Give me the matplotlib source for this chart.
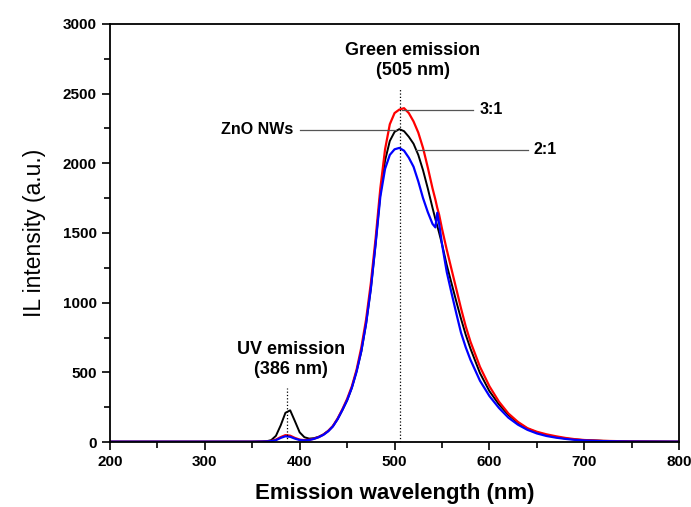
import numpy as np
import matplotlib.pyplot as plt
from matplotlib.ticker import MultipleLocator

plt.rcParams['font.family'] = ['Liberation Sans', 'DejaVu Sans']

# Data (wavelength in nm, IL intensity in a.u.)
wl = [200, 250, 300, 350, 360, 365, 370, 375, 380, 385, 390, 395,
      400, 405, 410, 415, 420, 425, 430, 435, 440, 445, 450, 455, 460, 465, 470, 475,
      480, 485, 490, 495, 500, 505, 510, 515, 520, 525, 530, 535, 540,
      543, 545, 547, 550, 555, 560, 565, 570, 575, 580,
      590, 600, 610, 620, 630, 640, 650, 660, 670, 680, 690, 700,
      720, 750, 800]
zno = [3, 3, 3, 3, 4, 6, 14, 45, 120, 210, 228, 150,
       70, 35, 25, 28, 38, 55, 80, 115, 165, 230, 300, 390, 510, 650, 850, 1100,
       1420, 1780, 2020, 2160, 2225, 2245, 2230, 2190, 2140, 2060, 1950, 1820, 1680,
       1600, 1550, 1500, 1420, 1270, 1140, 1010, 885, 770, 670,
       495, 365, 270, 195, 138, 97, 70, 50, 36, 26, 19, 14,
       9, 5, 3]
r31 = [3, 3, 3, 3, 4, 5, 8, 18, 36, 50, 46, 30,
       18, 14, 17, 24, 36, 54, 80, 115, 170, 235, 310, 400, 520, 680, 880, 1140,
       1460, 1820, 2100, 2280, 2360, 2385, 2395, 2360, 2300, 2220, 2110, 1970, 1820,
       1740, 1680, 1630, 1530, 1380, 1240, 1100, 960, 830, 720,
       540, 400, 290, 205, 145, 100, 74, 56, 42, 30, 21, 15,
       9, 5, 3]
r21 = [3, 3, 3, 3, 4, 5, 7, 14, 30, 42, 38, 25,
       15, 12, 15, 23, 35, 52, 77, 112, 165, 230, 300, 390, 505, 655, 850, 1100,
       1420, 1760, 1960, 2060, 2100, 2110, 2090, 2040, 1975, 1870, 1750, 1650, 1565,
       1540, 1645, 1565, 1420, 1220, 1070, 925, 785, 680, 590,
       440, 330, 245, 175, 125, 88, 62, 44, 32, 23, 16, 12,
       7, 4, 3]

fig = plt.figure(figsize=(6.91, 5.07), dpi=100)
ax = fig.add_axes([0.159, 0.128, 0.824, 0.825])

ax.plot(wl, zno, color='black', lw=1.4)
ax.plot(wl, r31, color='#ff0000', lw=1.6)
ax.plot(wl, r21, color='#0000ff', lw=1.6)

# peak markers
ax.plot([506, 506], [0, 2530], ls=':', color='black', lw=0.9)
ax.plot([387, 387], [0, 390], ls=':', color='black', lw=0.9)

# leader lines for labels
lc = '#555555'
ax.plot([400, 502], [2240, 2240], color=lc, lw=0.9)
ax.plot([508, 583], [2383, 2383], color=lc, lw=0.9)
ax.plot([523, 641], [2096, 2096], color=lc, lw=0.9)
ax.text(393, 2240, 'ZnO NWs', ha='right', va='center', fontsize=11.5, fontweight='bold')
ax.text(590, 2383, '3:1', ha='left', va='center', fontsize=11.5, fontweight='bold')
ax.text(646, 2096, '2:1', ha='left', va='center', fontsize=11.5, fontweight='bold')

ax.text(519, 2735, 'Green emission\n(505 nm)', ha='center', va='center',
        fontsize=13, fontweight='bold', linespacing=1.25)
ax.text(391, 590, 'UV emission\n(386 nm)', ha='center', va='center',
        fontsize=13, fontweight='bold', linespacing=1.25)

ax.set_xlim(200, 800)
ax.set_ylim(0, 3000)
ax.xaxis.set_major_locator(MultipleLocator(100))
ax.xaxis.set_minor_locator(MultipleLocator(50))
ax.yaxis.set_major_locator(MultipleLocator(500))
ax.yaxis.set_minor_locator(MultipleLocator(250))
ax.tick_params(which='both', direction='out', width=1.2, top=False, right=False)
ax.tick_params(which='major', length=6, labelsize=11)
ax.tick_params(which='minor', length=4)
for lab in ax.get_xticklabels() + ax.get_yticklabels():
    lab.set_fontweight('bold')
for s in ax.spines.values():
    s.set_linewidth(1.3)

ax.set_xlabel('Emission wavelength (nm)', fontsize=16, fontweight='bold', labelpad=10)
ax.set_ylabel('IL intensity (a.u.)', fontsize=16.5, labelpad=12)

fig.savefig('out.png', dpi=100)
